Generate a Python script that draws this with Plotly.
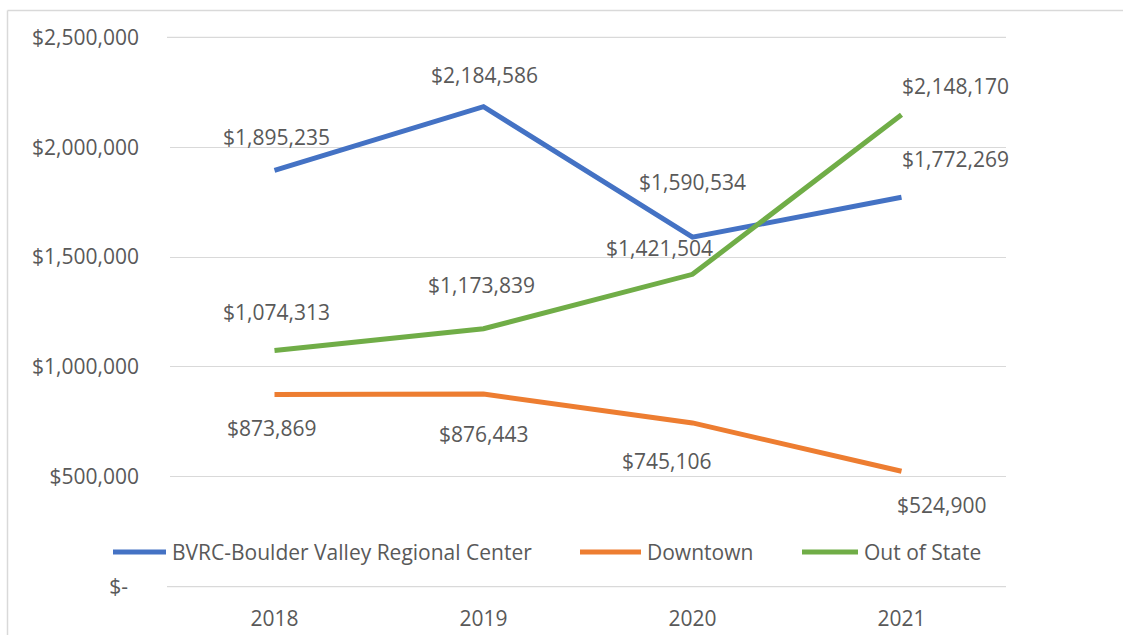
import plotly.graph_objects as go

years = ["2018", "2019", "2020", "2021"]
series_names = ["BVRC-Boulder Valley Regional Center", "Downtown", "Out of State"]
bvrc = [1895235, 2184586, 1590534, 1772269]
downtown = [873869, 876443, 745106, 524900]
out_of_state = [1074313, 1173839, 1421504, 2148170]
y_tick_vals = [0, 500000, 1000000, 1500000, 2000000, 2500000]
y_tick_text = ["$-\u00a0\u00a0", "$500,000", "$1,000,000", "$1,500,000", "$2,000,000", "$2,500,000"]

colors = ["#4472C4", "#ED7D31", "#70AD47"]
all_values = [bvrc, downtown, out_of_state]

# label pixel offsets (dx, dy) per series/point
label_offsets = [
    [(2, 33), (1, 32), (0, 55), (54, 38)],
    [(-3, -33), (0, -40), (-26, -38), (40, -34)],
    [(2, 39), (-2, 44), (-33, 26), (54, 29)],
]

FONT = "Open Sans"
FS = 21
TXT = "#595959"
GRID = "#d9d9d9"

W, H = 1123, 635
L, R, T, B = 170, 117, 37, 48
pw, ph = W - L - R, H - T - B
Y_RANGE = [-2000, 2502000]

fig = go.Figure()
for name, vals, col in zip(series_names, all_values, colors):
    fig.add_trace(go.Scatter(x=years, y=vals, mode="lines", name=name,
                             line=dict(color=col, width=5), showlegend=False))

annotations = []
for vals, offs in zip(all_values, label_offsets):
    for i, (v, (dx, dy)) in enumerate(zip(vals, offs)):
        annotations.append(dict(x=i, y=v, xref="x", yref="y", text=f"${v:,.0f}",
                                showarrow=False, xshift=dx, yshift=dy,
                                font=dict(family=FONT, size=FS, color=TXT)))

def px_x(p):
    return (p - L) / pw

def px_y(p):
    return (H - B - p) / ph

def val_to_paper(v):
    return (v - Y_RANGE[0]) / (Y_RANGE[1] - Y_RANGE[0])

shapes = []
# edge gridlines (plotly drops gridlines at the plot boundary)
for gv in (y_tick_vals[0], y_tick_vals[-1]):
    yp = val_to_paper(gv)
    shapes.append(dict(type="line", xref="paper", yref="paper", x0=px_x(167), x1=1,
                       y0=yp, y1=yp, layer="above", line=dict(color=GRID, width=1.2)))

# legend (manual)
legend_items = [(113, 166, 170), (580, 641, 645), (802, 858, 862)]
ly = 552
for (x0, x1, tx), name, col in zip(legend_items, series_names, colors):
    shapes.append(dict(type="line", xref="paper", yref="paper",
                       x0=px_x(x0), x1=px_x(x1), y0=px_y(ly), y1=px_y(ly),
                       line=dict(color=col, width=5)))
    annotations.append(dict(x=px_x(tx), y=px_y(ly), xref="paper", yref="paper",
                            text=name, showarrow=False, xanchor="left", yanchor="middle",
                            font=dict(family=FONT, size=FS, color=TXT)))

# chart border
shapes.append(dict(type="line", xref="paper", yref="paper",
                   x0=px_x(7.5), x1=px_x(1130), y0=px_y(10.5), y1=px_y(10.5),
                   line=dict(color=GRID, width=1.5)))
shapes.append(dict(type="line", xref="paper", yref="paper",
                   x0=px_x(7.5), x1=px_x(7.5), y0=px_y(10.5), y1=px_y(640),
                   line=dict(color=GRID, width=1.5)))

fig.update_layout(
    width=W, height=H,
    margin=dict(l=L, r=R, t=T, b=B, autoexpand=False),
    paper_bgcolor="white", plot_bgcolor="rgba(0,0,0,0)",
    font=dict(family=FONT, size=FS, color=TXT),
    annotations=annotations, shapes=shapes,
    xaxis=dict(type="category", range=[-0.5, 3.5], showgrid=False, zeroline=False,
               showline=False, ticks="", ticklabelstandoff=17, automargin=False,
               tickfont=dict(family=FONT, size=FS, color=TXT)),
    yaxis=dict(range=Y_RANGE, tickvals=y_tick_vals, ticktext=y_tick_text,
               showgrid=True, gridcolor=GRID, gridwidth=1, zeroline=False,
               showline=False, ticks="", ticklabelstandoff=30, automargin=False,
               tickfont=dict(family=FONT, size=FS, color=TXT)),
)

fig.write_html("out.html", config={"displayModeBar": False},
               post_script="document.body.style.margin='0';document.body.style.overflow='hidden';")
